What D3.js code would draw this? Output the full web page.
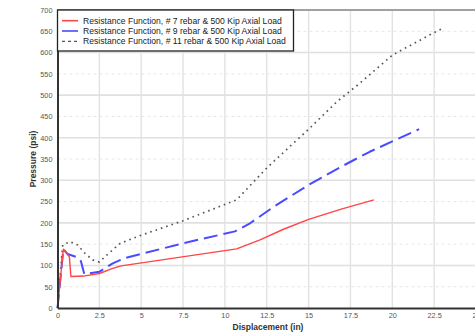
<!DOCTYPE html>
<html>
<head>
<meta charset="utf-8">
<script src="https://cdn.jsdelivr.net/npm/d3@7"></script>
<style>
  body { margin: 0; background: #fff; }
  svg { display: block; font-family: "Liberation Sans", Arial, sans-serif; }
</style>
</head>
<body>
<svg id="chart" width="475" height="332"></svg>
<script>
// displacement (in) / pressure (psi)
var rebar7X = [0, 0.35, 0.71, 0.8, 1.55, 2.5, 3.3, 3.8, 10.7, 12.1, 13.5, 15, 17, 18.9];
var rebar7Y = [0, 138, 120, 74, 75, 81, 93, 99, 139, 160, 185, 208, 233, 254];

var rebar9X = [0, 0.35, 0.6, 1.25, 1.4, 1.6, 2.5, 3.3, 4, 7.5, 10.6, 11.5, 13, 15, 17, 18.65, 21.6];
var rebar9Y = [0, 138, 127, 118, 110, 80, 85, 105, 117, 152, 180, 199, 240, 289, 333, 367, 420];

var rebar11X = [0, 0.31, 0.75, 1.2, 1.65, 2.1, 2.5, 3.1, 3.75, 5, 7.5, 10.7, 12.5, 15, 16.7, 18, 20, 22.5, 22.93];
var rebar11Y = [0, 148, 156, 148, 128, 113, 108, 130, 152, 171, 205, 254, 329, 420, 485, 526, 594, 647, 655];

var seriesNames = [
    "Resistance Function, # 7 rebar & 500 Kip Axial Load",
    "Resistance Function, # 9 rebar & 500 Kip Axial Load",
    "Resistance Function, # 11 rebar & 500 Kip Axial Load"
];

var xTicks = [0, 2.5, 5, 7.5, 10, 12.5, 15, 17.5, 20, 22.5, 25];
var yTicks = [0, 50, 100, 150, 200, 250, 300, 350, 400, 450, 500, 550, 600, 650, 700];

(function () {
    var styles = [
        { color: "#ff4545", width: 1.4, dash: null, legendDash: null },
        { color: "#4a4aff", width: 2, dash: "14,6", legendDash: null },
        { color: "#555", width: 1.7, dash: "1.6,4", legendDash: "3,3" }
    ];

    function zip(xs, ys) {
        return xs.map(function (x, i) { return { x: x, y: ys[i] }; });
    }

    var svg = d3.select("#chart");
    var plotLeft = 57.5, plotRight = 476, plotTop = 10, plotBottom = 308;

    var x = d3.scaleLinear().domain([0, 25]).range([plotLeft, plotRight]);
    var y = d3.scaleLinear().domain([0, 700]).range([plotBottom, plotTop]);

    // grid
    svg.append("g").selectAll("line")
        .data(yTicks.filter(function (d) { return d > 0; }))
        .enter().append("line")
        .attr("x1", plotLeft).attr("x2", plotRight)
        .attr("y1", function (d) { return y(d); })
        .attr("y2", function (d) { return y(d); })
        .attr("stroke", function (d) { return d % 100 ? "#e6e6e6" : "#e0e0e0"; })
        .attr("stroke-width", function (d) { return d % 100 ? 1 : 1.6; })
        .attr("stroke-dasharray", function (d) { return d % 100 ? "3,3" : null; });

    svg.append("g").selectAll("line")
        .data(xTicks.filter(function (d) { return d > 0 && d < 25; }))
        .enter().append("line")
        .attr("y1", plotTop).attr("y2", plotBottom)
        .attr("x1", function (d) { return x(d); })
        .attr("x2", function (d) { return x(d); })
        .attr("stroke", "#e2e2e2")
        .attr("stroke-width", 1.4);

    // top frame line
    svg.append("line").attr("x1", plotLeft).attr("x2", plotRight)
        .attr("y1", plotTop).attr("y2", plotTop)
        .attr("stroke", "#8a8a8a").attr("stroke-width", 1.5);

    // series
    var line = d3.line()
        .x(function (d) { return x(d.x); })
        .y(function (d) { return y(d.y); });

    var allSeries = [zip(rebar7X, rebar7Y), zip(rebar9X, rebar9Y), zip(rebar11X, rebar11Y)];

    // dotted one first so the others sit over it near the origin
    [2, 1, 0].forEach(function (i) {
        svg.append("path")
            .datum(allSeries[i])
            .attr("fill", "none")
            .attr("stroke", styles[i].color)
            .attr("stroke-width", styles[i].width)
            .attr("stroke-dasharray", styles[i].dash)
            .attr("stroke-linejoin", "round")
            .attr("d", line);
    });

    // axes
    var xAxis = d3.axisBottom(x).tickValues(xTicks).tickSize(0).tickPadding(5)
        .tickFormat(function (d) { return String(d); });
    var yAxis = d3.axisLeft(y).tickValues(yTicks).tickSize(0).tickPadding(5);

    var gx = svg.append("g").attr("transform", "translate(0," + plotBottom + ")").call(xAxis);
    var gy = svg.append("g").attr("transform", "translate(" + plotLeft + ",0)").call(yAxis);

    [gx, gy].forEach(function (g) {
        g.select(".domain").attr("stroke", "#333").attr("stroke-width", 2);
        g.selectAll("text").attr("fill", "#555").style("font-size", "7.3px")
            .style("font-family", "'Liberation Sans', Arial, sans-serif");
    });

    svg.append("text")
        .attr("x", 268).attr("y", 330)
        .attr("text-anchor", "middle")
        .style("font-size", "8.5px").style("font-weight", "bold").attr("fill", "#333")
        .text("Displacement (in)");

    svg.append("text")
        .attr("transform", "translate(36," + ((plotTop + plotBottom) / 2) + ") rotate(-90)")
        .attr("text-anchor", "middle")
        .style("font-size", "8.5px").style("font-weight", "bold").attr("fill", "#333")
        .text("Pressure (psi)");

    // legend
    var legend = svg.append("g");
    legend.append("rect")
        .attr("x", plotLeft).attr("y", plotTop).attr("width", 236).attr("height", 41)
        .attr("fill", "#fff").attr("stroke", "#222").attr("stroke-width", 1.3);

    seriesNames.forEach(function (name, i) {
        var ly = 20.7 + i * 10.3;
        legend.append("line")
            .attr("x1", 62).attr("x2", 78).attr("y1", ly).attr("y2", ly)
            .attr("stroke", styles[i].color)
            .attr("stroke-width", i == 2 ? 1.2 : 1.6)
            .attr("stroke-dasharray", styles[i].legendDash);
        legend.append("text")
            .attr("x", 83).attr("y", ly).attr("dy", "0.35em")
            .style("font-size", "8.6px").attr("fill", "#222")
            .text(name);
    });
})();
</script>
</body>
</html>
